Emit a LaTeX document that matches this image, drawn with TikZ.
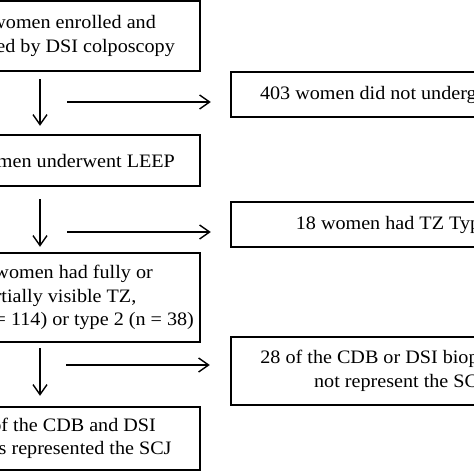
\documentclass[tikz,border=0pt]{standalone}
\usepackage{fontspec}
\setmainfont{Liberation Serif}[FakeStretch=1.06]
\usetikzlibrary{arrows.meta}
\begin{document}
\begin{tikzpicture}[x=1pt,y=-1pt,
  box/.style={draw=black, line width=2.4pt, rectangle, inner sep=0pt, align=center,
    font=\fontsize{19pt}{23.5pt}\selectfont},
  leftbox/.style={box, minimum width=288pt},
  rightbox/.style={box, minimum width=338pt},
  arr/.style={line width=1.4pt, -{Straight Barb[length=10pt,width=14pt]}}]
\useasboundingbox (0,0) rectangle (474,474);
\fill[white] (0,0) rectangle (474,474);
\clip (0,0) rectangle (474,474);

\node[leftbox, minimum height=70pt] (B1) at (56,36) {573 women enrolled and\\examined by DSI colposcopy};
\node[leftbox, minimum height=51pt] (B2) at (56,160.5) {170 women underwent LEEP};
\node[leftbox, minimum height=89pt] (B3) at (56,297.5) {152 women had fully or\\partially visible TZ,\hspace*{14pt}\\type 1 (n = 114) or type 2 (n = 38)};
\node[leftbox, minimum height=63pt] (B4) at (56,438.5) {124 of the CDB and DSI\\biopsies represented the SCJ};

\node[rightbox, minimum height=45pt] (RA) at (400,94.5) {403 women did not undergo LEEP};
\node[rightbox, minimum height=45pt] (RB) at (400,224.5) {18 women had TZ Type 3};
\node[rightbox, minimum height=68pt] (RC) at (400,371) {28 of the CDB or DSI biopsies did\\not represent the SCJ};

\coordinate (colx) at (40,0);
\draw[arr, shorten <=7pt, shorten >=8pt] (B1.south -| colx) -- (B2.north -| colx);
\draw[arr, shorten <=12pt, shorten >=5pt] (B2.south -| colx) -- (B3.north -| colx);
\draw[arr, shorten <=5pt, shorten >=10pt] (B3.south -| colx) -- (B4.north -| colx);

\coordinate (h1) at (67,102);
\coordinate (h2) at (67,232);
\coordinate (h3) at (66,365);
\draw[arr, shorten >=19pt] (h1) -- (h1 -| RA.west);
\draw[arr, shorten >=19pt] (h2) -- (h2 -| RB.west);
\draw[arr, shorten >=20pt] (h3) -- (h3 -| RC.west);
\end{tikzpicture}
\end{document}
